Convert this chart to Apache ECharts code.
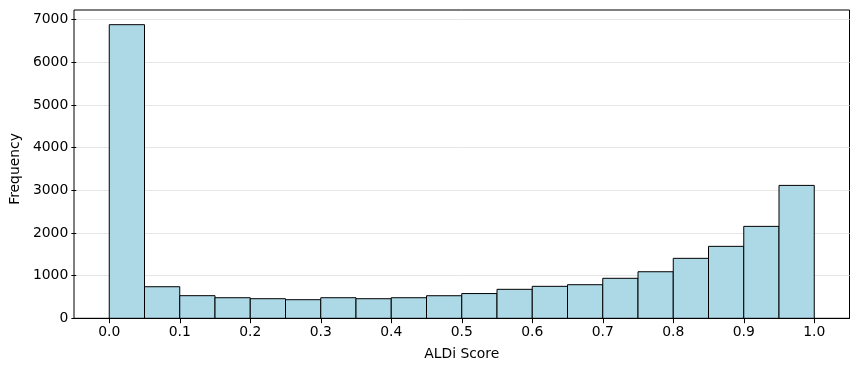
<!DOCTYPE html>
<html>
<head>
<meta charset="utf-8">
<script src="https://cdn.jsdelivr.net/npm/echarts@6/dist/echarts.min.js"></script>
<style>html,body{margin:0;padding:0;background:#fff;}#c{width:859px;height:371px;}</style>
</head>
<body>
<div id="c"></div>
<script>
const binStarts = [0.00,0.05,0.10,0.15,0.20,0.25,0.30,0.35,0.40,0.45,0.50,0.55,0.60,0.65,0.70,0.75,0.80,0.85,0.90,0.95];
const binWidth = 0.05;
const counts = [6880,740,530,482,459,436,482,459,482,529,580,679,749,787,937,1091,1405,1686,2154,3114];
const xTicks = [0,0.1,0.2,0.3,0.4,0.5,0.6,0.7,0.8,0.9,1.0];
const yTicks = [0,1000,2000,3000,4000,5000,6000,7000];
const xTitle = 'ALDi Score';
const yTitle = 'Frequency';

const font = 'DejaVu Sans';
const data = binStarts.map((s, i) => [s, s + binWidth, counts[i]]);
const yMaxData = Math.max(...counts) * 1.05;

// pixel geometry of the frame
const L = 74, R = 9.5, T = 10, B = 52.7;
const W = 859 - L - R, H = 371 - T - B;
const xMin = -0.05, xMax = 1.05;
const xToPx = v => L + (v - xMin) / (xMax - xMin) * W;
const yToPx = v => (371 - B) - v / yMaxData * H;

const chart = echarts.init(document.getElementById('c'), null, {renderer: 'canvas'});
chart.setOption({
  animation: false,
  grid: [
    {left: L, right: R, top: T, bottom: B, show: true, borderColor: '#000', borderWidth: 1, backgroundColor: 'transparent'},
    {left: L, right: R, top: yToPx(yTicks[yTicks.length-1]), bottom: B},
    {left: xToPx(xTicks[0]), right: 859 - xToPx(xTicks[xTicks.length-1]), top: T, bottom: B}
  ],
  xAxis: [
    {gridIndex: 0, type: 'value', min: xMin, max: xMax, z: 10,
     axisLine: {show: true, onZero: false, lineStyle: {color: '#000', width: 1}},
     axisTick: {show: false}, axisLabel: {show: false}, splitLine: {show: false}},
    {gridIndex: 1, type: 'value', min: 0, max: 1, show: false},
    {gridIndex: 2, type: 'value', min: xTicks[0], max: xTicks[xTicks.length-1], interval: 0.1,
     axisLine: {show: false}, splitLine: {show: false},
     axisTick: {show: true, length: 4.9, lineStyle: {color: '#000', width: 1}},
     axisLabel: {margin: 7, color: '#000', fontFamily: font, fontSize: 13.9, formatter: v => v.toFixed(1)},
     name: xTitle, nameLocation: 'middle', nameGap: 29,
     nameTextStyle: {color: '#000', fontFamily: font, fontSize: 13.9}}
  ],
  yAxis: [
    {gridIndex: 0, type: 'value', min: 0, max: yMaxData, show: false},
    {gridIndex: 1, type: 'value', min: 0, max: yTicks[yTicks.length-1], interval: 1000,
     axisLine: {show: false},
     axisTick: {show: true, length: 4.9, lineStyle: {color: '#000', width: 1}},
     splitLine: {show: true, lineStyle: {color: '#e6e6e6', width: 1}},
     axisLabel: {margin: 8, color: '#000', fontFamily: font, fontSize: 13.9, formatter: v => String(v)},
     name: yTitle, nameLocation: 'middle', nameGap: 45, nameRotate: 90,
     nameTextStyle: {color: '#000', fontFamily: font, fontSize: 13.9}},
    {gridIndex: 2, type: 'value', min: 0, max: 1, show: false}
  ],
  series: [{
    type: 'custom',
    xAxisIndex: 0, yAxisIndex: 0,
    z: 5,
    data: data,
    encode: {x: [0, 1], y: 2},
    renderItem: function (params, api) {
      const p0 = api.coord([api.value(0), api.value(2)]);
      const p1 = api.coord([api.value(1), 0]);
      return {
        type: 'rect',
        shape: {x: p0[0], y: p0[1], width: p1[0] - p0[0], height: p1[1] - p0[1]},
        style: {fill: '#ADD8E6', stroke: '#000', lineWidth: 1}
      };
    }
  }]
});
</script>
</body>
</html>
